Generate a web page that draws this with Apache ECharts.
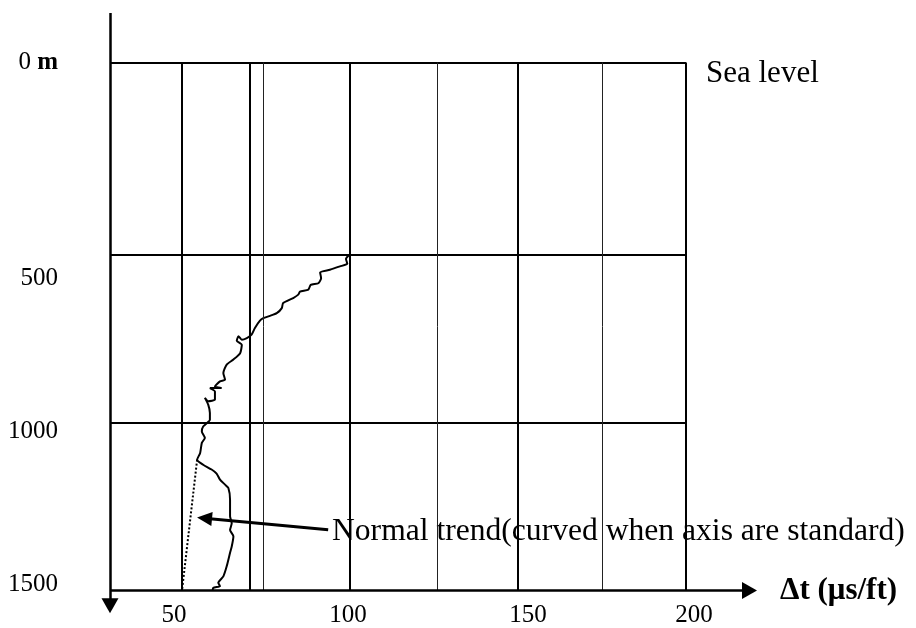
<!DOCTYPE html>
<html><head><meta charset="utf-8">
<script src="https://cdn.jsdelivr.net/npm/echarts@6/dist/echarts.min.js"></script>
<style>html,body{margin:0;padding:0;background:#fff}#c{width:916px;height:628px}</style>
</head><body><div id="c"></div>
<script>
// ---- data ----
const dtValues = [100.0, 98.8, 99.2, 97.0, 94.0, 91.1, 91.4, 90.6, 88.3, 87.6, 85.1, 84.6, 83.1, 80.1, 79.7, 78.2, 76.2, 74.2, 73.2, 71.7, 70.7, 69.3, 67.8, 66.8, 66.3, 67.8, 67.3, 65.3, 63.3, 62.3, 62.8, 61.3, 59.8, 61.8, 58.3, 59.8, 59.8, 57.8, 56.8, 57.8, 58.3, 58.3, 56.3, 55.9, 56.8, 55.9, 55.4, 54.5, 56.3, 58.8, 60.3, 61.3, 62.8, 63.8, 64.3, 64.3, 64.8, 64.3, 65.3, 64.8, 64.3, 63.3, 62.3, 60.8, 61.3, 59.3, 59.1];
const depthValues = [500, 514, 528, 536, 546, 554, 571, 586, 591, 605, 611, 620, 630, 645, 660, 675, 683, 690, 697, 719, 739, 749, 754, 744, 757, 769, 794, 813, 828, 853, 873, 878, 893, 898, 898, 908, 932, 937, 927, 947, 972, 992, 1012, 1027, 1046, 1061, 1091, 1111, 1126, 1140, 1152, 1170, 1185, 1195, 1230, 1279, 1300, 1320, 1339, 1369, 1388, 1428, 1458, 1477, 1487, 1492, 1500];
const trendDt = [54.5, 50];
const trendDepth = [1111, 1500];
const xTickValues = [50, 100, 150, 200];
const xTickLabels = ['50', '100', '150', '200'];
const seaLevel = -70.6;
const yTickValues = [seaLevel, 500, 1000, 1500];
const yTickLabels = ['0 m', '500', '1000', '1500'];
const majorVLines = [50, 70.3, 100, 150, 200];
const minorVLines = [74.1, 126, 175];
const hLines = [seaLevel, 500, 1000];
const arrowTail = [93.5, 1319];
const arrowHead = [56.7, 1285];
const annotationText = 'Normal trend(curved when axis are standard)';
const seaLevelText = 'Sea level';
const xAxisTitle = '\u0394t (\u03bcs/ft)';

// ---- axis ranges ----
const xMin = 28.57, xMax = 222.02, xArrowEnd = 218.9, xRight = 200;
const yMin = -217.7, yMax = 1574.3, yArrowEnd = 1545, yBottom = 1500;

const FONT = '"Liberation Serif", "Times New Roman", serif';
const chart = echarts.init(document.getElementById('c'), null, {renderer: 'canvas'});

const seg = (a, b) => [{coord: a}, {coord: b}];
const xLabelShift = {'50': -8, '100': -2, '150': 10, '200': 8};
const yLabelShift = {'0 m': 0, '500': 24, '1000': 9, '1500': -6};

const xRich = {}; xTickLabels.forEach((t, i) => {
  const s = xLabelShift[t];
  xRich['x' + i] = {fontFamily: FONT, fontSize: 25, color: '#000',
    padding: s >= 0 ? [0, 0, 0, 2 * s] : [0, -2 * s, 0, 0]};
});
const yRich = {b: {fontFamily: FONT, fontSize: 25, color: '#000', fontWeight: 'bold'}};
yTickLabels.forEach((t, i) => {
  const s = yLabelShift[t];
  yRich['y' + i] = {fontFamily: FONT, fontSize: 25, color: '#000',
    padding: s >= 0 ? [2 * s, 0, 0, 0] : [0, 0, -2 * s, 0]};
});
const nearest = (arr, v) => { let bi = 0; arr.forEach((a, i) => { if (Math.abs(a - v) < Math.abs(arr[bi] - v)) bi = i; }); return bi; };

const option = {
  animation: false,
  backgroundColor: '#fff',
  grid: {left: 110, top: 13, width: 650, height: 603},
  xAxis: {
    type: 'value', min: xMin, max: xMax,
    axisLine: {show: false}, axisTick: {show: false}, splitLine: {show: false},
    axisLabel: {
      customValues: xTickValues, margin: 0, verticalAlign: 'middle',
      formatter: v => { const i = nearest(xTickValues, v); return '{x' + i + '|' + xTickLabels[i] + '}'; },
      rich: xRich
    }
  },
  yAxis: {
    type: 'value', inverse: true, min: yMin, max: yMax,
    axisLine: {show: false}, axisTick: {show: false}, splitLine: {show: false},
    axisLabel: {
      customValues: yTickValues, margin: 52, align: 'right', verticalAlign: 'middle',
      formatter: v => {
        const i = nearest(yTickValues, v); const t = yTickLabels[i];
        if (t.endsWith(' m')) return '{y' + i + '|' + t.slice(0, -2) + ' }{b|m}';
        return '{y' + i + '|' + t + '}';
      },
      rich: yRich
    }
  },
  series: [
    { // thick grid lines and box
      type: 'line', data: [], silent: true,
      markLine: {
        silent: true, symbol: 'none', animation: false, label: {show: false},
        lineStyle: {color: '#000', width: 2, type: 'solid'},
        data: majorVLines.map(v => seg([v, seaLevel], [v, yBottom]))
          .concat(hLines.map(v => seg([xMin, v], [xRight, v])))
      }
    },
    { // thin grid lines
      type: 'line', data: [], silent: true,
      markLine: {
        silent: true, symbol: 'none', animation: false, label: {show: false},
        lineStyle: {color: '#222', width: 1, type: 'solid'},
        data: minorVLines.map(v => seg([v, seaLevel], [v, yBottom]))
      }
    },
    { // axes with arrows
      type: 'line', data: [], silent: true,
      markLine: {
        silent: true, symbol: ['none', 'triangle'], symbolSize: [17, 15], animation: false, label: {show: false},
        lineStyle: {color: '#000', width: 2.5, type: 'solid'},
        data: [seg([xMin, yMin], [xMin, yArrowEnd]), seg([xMin, yBottom], [xArrowEnd, yBottom])]
      }
    },
    { // annotation arrow
      type: 'line', data: [], silent: true,
      markLine: {
        silent: true, symbol: ['none', 'triangle'], symbolSize: [14, 15], animation: false, label: {show: false},
        lineStyle: {color: '#000', width: 3, type: 'solid'},
        data: [seg(arrowTail, arrowHead)]
      }
    },
    { // normal trend
      type: 'line', silent: true, showSymbol: false,
      data: trendDt.map((v, i) => [v, trendDepth[i]]),
      lineStyle: {color: '#000', width: 2, type: [2, 2]}, z: 3
    },
    { // sonic log curve
      type: 'line', silent: true, showSymbol: false, smooth: 0.2,
      data: dtValues.map((v, i) => [v, depthValues[i]]),
      lineStyle: {color: '#000', width: 2}, z: 4
    }
  ],
  graphic: [
    {type: 'text', x: 706, y: 74, style: {text: seaLevelText, font: '31px ' + FONT, fill: '#000', verticalAlign: 'middle'}},
    {type: 'text', x: 332, y: 532, style: {text: annotationText, font: '31.6px ' + FONT, fill: '#000', verticalAlign: 'middle'}},
    {type: 'text', x: 780, y: 591, style: {text: xAxisTitle, font: 'bold 31px ' + FONT, fill: '#000', verticalAlign: 'middle'}}
  ]
};
chart.setOption(option);
</script>
</body></html>
